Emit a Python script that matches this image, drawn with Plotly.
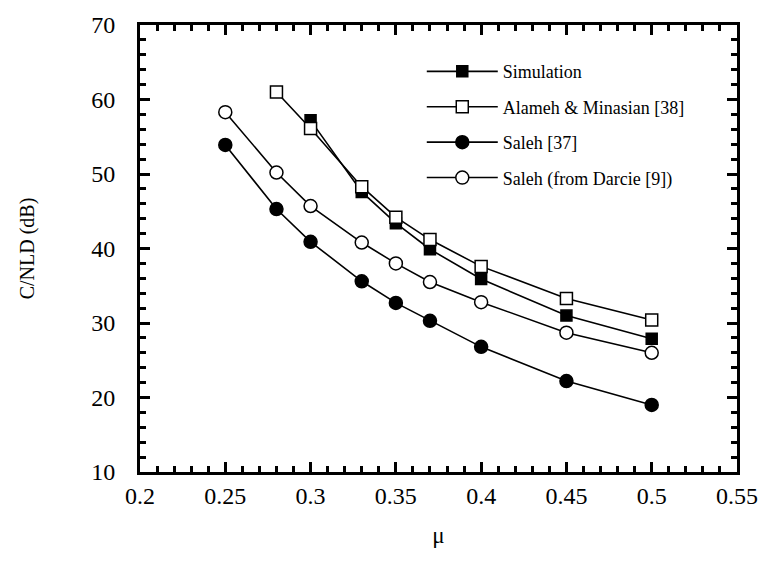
import plotly.graph_objects as go

# mu values and C/NLD (dB) for each model
mu_sim = [0.30, 0.33, 0.35, 0.37, 0.40, 0.45, 0.50]
cnld_sim = [57.2, 47.6, 43.4, 39.9, 35.9, 31.0, 27.9]

mu_alameh = [0.28, 0.30, 0.33, 0.35, 0.37, 0.40, 0.45, 0.50]
cnld_alameh = [61.0, 56.1, 48.3, 44.2, 41.2, 37.6, 33.3, 30.4]

mu_saleh = [0.25, 0.28, 0.30, 0.33, 0.35, 0.37, 0.40, 0.45, 0.50]
cnld_saleh = [53.9, 45.3, 40.9, 35.6, 32.7, 30.3, 26.8, 22.2, 19.0]

mu_darcie = [0.25, 0.28, 0.30, 0.33, 0.35, 0.37, 0.40, 0.45, 0.50]
cnld_darcie = [58.3, 50.2, 45.7, 40.8, 38.0, 35.5, 32.8, 28.7, 26.0]

series_names = ["Simulation", "Alameh & Minasian [38]", "Saleh [37]", "Saleh (from Darcie [9])"]

FONT = "Liberation Serif, Times New Roman, serif"
INK = "black"

fig = go.Figure()

styles = [
    (mu_sim, cnld_sim, "square", INK, 11),
    (mu_alameh, cnld_alameh, "square", "white", 12),
    (mu_saleh, cnld_saleh, "circle", INK, 13),
    (mu_darcie, cnld_darcie, "circle", "white", 13),
]

for name, (xs, ys, sym, fill, size) in zip(series_names, styles):
    fig.add_trace(go.Scatter(
        x=xs, y=ys, name=name, mode="lines+markers",
        legendgroup=name,
        line=dict(color=INK, width=1.6),
        marker=dict(symbol=sym, size=size, color=fill,
                    line=dict(color=INK, width=1.5)),
    ))

axis_common = dict(
    showgrid=False, zeroline=False,
    showline=True, linecolor=INK, linewidth=3, mirror="allticks",
    ticks="inside", ticklen=10, tickwidth=2.5, tickcolor=INK,
    tickfont=dict(family=FONT, size=24, color=INK),
)

fig.update_xaxes(
    range=[0.2, 0.55], tick0=0.2, dtick=0.05,
    minor=dict(dtick=0.01, ticks="inside", ticklen=6, tickwidth=2.5, tickcolor=INK),
    title=dict(text="μ", font=dict(family=FONT, size=23, color=INK), standoff=20),
    **axis_common,
)
fig.update_yaxes(
    range=[10, 70], tick0=10, dtick=10,
    ticklabelstandoff=17,
    minor=dict(dtick=2, ticks="inside", ticklen=6, tickwidth=2.5, tickcolor=INK),
    title=dict(text="C/NLD (dB)", font=dict(family=FONT, size=20, color=INK), standoff=52),
    **axis_common,
)

fig.update_layout(
    width=770, height=561,
    margin=dict(l=140, r=27, t=20, b=89),
    paper_bgcolor="white", plot_bgcolor="white",
    font=dict(family=FONT, color=INK),
    legend=dict(
        x=0.472, y=0.937, xanchor="left", yanchor="top",
        bgcolor="rgba(0,0,0,0)", borderwidth=0,
        font=dict(family=FONT, size=18, color=INK),
        itemwidth=71, traceorder="grouped", tracegroupgap=9,
    ),
)

fig.write_html("out.html")
